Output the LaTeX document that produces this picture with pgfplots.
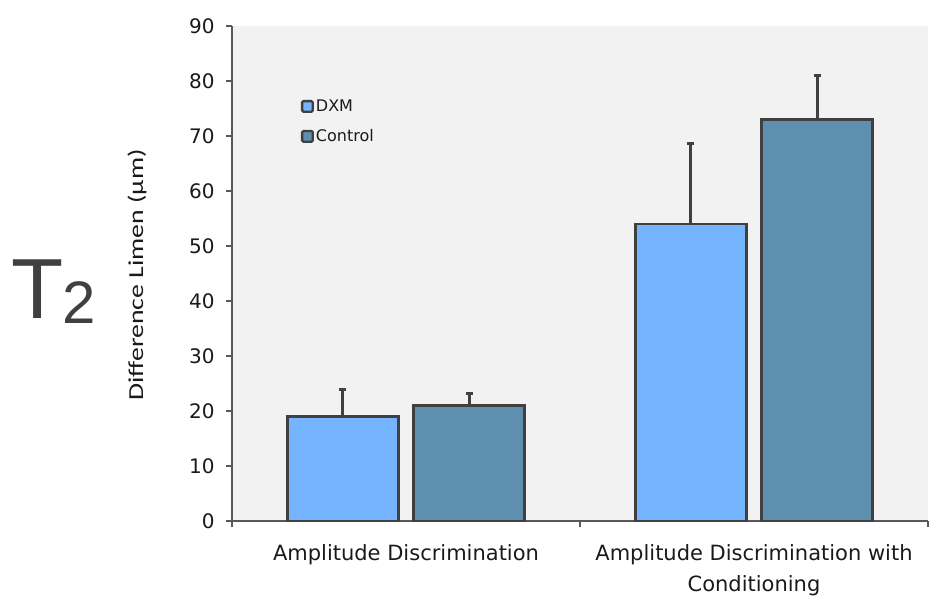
\documentclass[border=0pt]{standalone}
\usepackage{pgfplots}
\pgfplotsset{compat=1.18}
\usepackage{fontspec}
\setmainfont{DejaVu Sans}
\newfontfamily\carlito{Carlito}
\newfontfamily\lib{Liberation Sans}
\definecolor{dxm}{HTML}{75B4FE}
\definecolor{ctrl}{HTML}{5E8FAE}
\definecolor{edge}{HTML}{404040}
\definecolor{axisgray}{HTML}{595959}
\definecolor{bg}{HTML}{F2F2F2}
\definecolor{txt}{HTML}{1A1A1A}
\begin{document}
\begin{tikzpicture}[x=1pt,y=1pt]
\path (0,0) rectangle (711,456);
\node[anchor=base west, inner sep=0, text=edge] at (8.5,217.5) {\lib\fontsize{64}{64}\selectfont T};
\node[anchor=base west, inner sep=0, text=edge] at (47,213.75) {\lib\fontsize{45}{45}\selectfont 2};
\begin{axis}[
  at={(174pt,65.25pt)}, anchor=south west,
  scale only axis, width=522pt, height=371.25pt,
  xmin=-0.5, xmax=1.5, ymin=0, ymax=90,
  axis x line*=bottom, axis y line*=left,
  axis background/.style={fill=bg},
  axis line style={axisgray, line width=1.5pt, -},
  tick style={axisgray, line width=1.5pt},
  tick align=outside,
  major tick length=4.5pt,
  ytick={0,10,...,90},
  xtick={-0.5,0.5,1.5}, xticklabels={},
  extra x ticks={0,1},
  extra x tick labels={Amplitude Discrimination, {Amplitude Discrimination with\\Conditioning}},
  extra x tick style={major tick length=0pt, tick style={draw=none}},
  xticklabel style={align=center, text=txt, font=\fontsize{15.75}{23.5}\selectfont, yshift=-14pt},
  yticklabel style={text=txt, font=\fontsize{15}{15}\selectfont, xshift=-5pt},
  /pgf/number format/assume math mode=true,
  ylabel={\carlito\scalebox{1.3}[1]{Difference Limen (µm)}},
  ylabel style={at={(axis description cs:-0.1365,0.497)}, anchor=center, text=txt, font=\fontsize{16}{16}\selectfont},
  legend style={at={(axis description cs:0.0987,0.807)}, anchor=west, draw=none, fill=none, inner sep=0pt,
     font=\fontsize{12}{12}\selectfont, text=txt, row sep=9pt, nodes={inner sep=1.5pt}},
  legend cell align=left,
  legend image code/.code={\draw[#1, line width=1.75pt, rounded corners=1pt] (0.5pt,-4pt) rectangle (8.5pt,4pt);},
]
\addplot[ybar, bar width=83.25pt, bar shift=0pt, fill=dxm, draw=edge, line width=2pt,
  error bars/.cd, y dir=plus, y explicit, error mark=|,
  error bar style={line width=2.25pt, draw=edge},
  error mark options={line width=2.25pt, draw=edge, mark size=2.6pt}]
  coordinates {(-0.1816,19) +- (0,4.9) (0.8184,54) +- (0,14.7)};
\addlegendentry{DXM}
\addplot[ybar, bar width=83.25pt, bar shift=0pt, fill=ctrl, draw=edge, line width=2pt,
  error bars/.cd, y dir=plus, y explicit, error mark=|,
  error bar style={line width=2.25pt, draw=edge},
  error mark options={line width=2.25pt, draw=edge, mark size=2.6pt}]
  coordinates {(0.1816,21) +- (0,2.2) (1.1816,73) +- (0,8)};
\addlegendentry{Control}
\end{axis}
\end{tikzpicture}
\end{document}
